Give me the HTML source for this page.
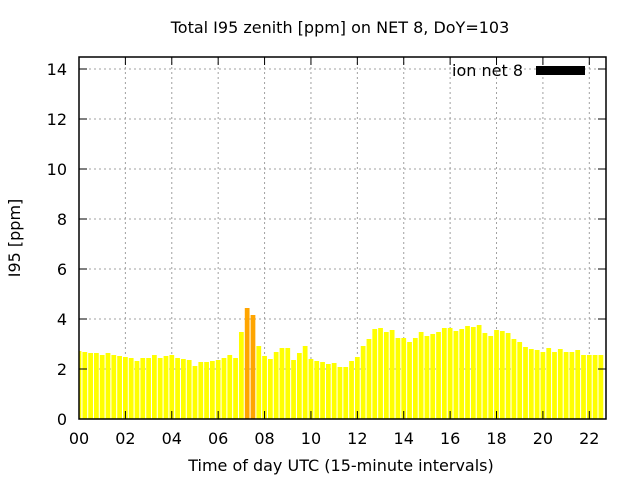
<!DOCTYPE html>
<html><head><meta charset="utf-8"><style>
body{margin:0;background:#fff;}
svg{display:block;font-family:"DejaVu Sans","Liberation Sans",sans-serif;}
</style></head><body>
<svg id="chart" width="640" height="480">
<text x="340" y="33" font-size="16" text-anchor="middle">Total I95 zenith [ppm] on NET 8, DoY=103</text>
<g id="grid"></g>
<g id="bars"></g>
<g id="axes"></g>
<text x="341" y="471" font-size="16" text-anchor="middle">Time of day UTC (15-minute intervals)</text>
<text transform="translate(20,238) rotate(-90)" font-size="16" text-anchor="middle">I95 [ppm]</text>
<text x="523" y="76" font-size="16" text-anchor="end">ion net 8</text>
<rect x="536" y="66" width="49" height="9" fill="#000"/>
</svg>
<script>
const values=[2.72,2.68,2.64,2.64,2.56,2.64,2.56,2.52,2.48,2.44,2.32,2.44,2.44,2.56,2.44,2.52,2.56,2.44,2.40,2.36,2.12,2.28,2.28,2.32,2.36,2.44,2.56,2.44,3.48,4.44,4.16,2.92,2.52,2.40,2.68,2.84,2.84,2.36,2.64,2.92,2.40,2.32,2.28,2.20,2.24,2.08,2.08,2.32,2.48,2.92,3.2,3.6,3.64,3.48,3.56,3.24,3.24,3.08,3.24,3.48,3.32,3.40,3.48,3.64,3.64,3.52,3.60,3.72,3.68,3.76,3.44,3.32,3.56,3.52,3.44,3.20,3.08,2.88,2.80,2.76,2.68,2.84,2.68,2.80,2.68,2.68,2.76,2.56,2.56,2.56,2.56];
const xTicks=["00","02","04","06","08","10","12","14","16","18","20","22"];
const yTicks=[0,2,4,6,8,10,12,14];
const X0=79,X1=606,Y0=419,Y1=57,xmax=22.72,ymax=14.48;
const sx=h=>X0+h*(X1-X0)/xmax, sy=v=>Y0-v*(Y0-Y1)/ymax;
const NS="http://www.w3.org/2000/svg";
function mk(t,a,p){const e=document.createElementNS(NS,t);for(const k in a)e.setAttribute(k,a[k]);p.appendChild(e);return e;}
const grid=document.getElementById('grid'),bars=document.getElementById('bars'),axes=document.getElementById('axes');
yTicks.forEach(v=>{
 const y=sy(v);
 if(v>0){const g=mk('line',{x1:X0,x2:X1,y1:y,y2:y,stroke:'#a0a0a0','stroke-dasharray':'2,3'},grid);
 
 }
 mk('line',{x1:X0,x2:X0+8,y1:y,y2:y,stroke:'#000'},axes);
 mk('line',{x1:X1,x2:X1-8,y1:y,y2:y,stroke:'#000'},axes);
 const t=mk('text',{x:X0-12,y:y+6,'font-size':16,'text-anchor':'end'},axes);t.textContent=v;
 
 
});
xTicks.forEach((l,i)=>{
 const x=sx(i*2);
 if(i>0){const g=mk('line',{x1:x,x2:x,y1:Y1,y2:Y0,stroke:'#a0a0a0','stroke-dasharray':'2,3'},grid);
 
 }
 mk('line',{x1:x,x2:x,y1:Y0,y2:Y0-8,stroke:'#000'},axes);
 mk('line',{x1:x,x2:x,y1:Y1,y2:Y1+8,stroke:'#000'},axes);
 const t=mk('text',{x:x,y:Y0+25,'font-size':16,'text-anchor':'middle'},axes);t.textContent=l;
 
 
});
const bw=(X1-X0)/xmax*0.25*0.82;
values.forEach((v,i)=>{
 const cx=sx(i*0.25);let x=cx-bw/2,w=bw;
 if(x<X0){w-=X0-x;x=X0;}
 const r=mk('rect',{x:x,y:sy(v),width:w,height:Y0-sy(v),fill:v>4?'#ffa500':'#ffff00'},bars);
 
 
});
const f=mk('rect',{x:X0,y:Y1,width:X1-X0,height:Y0-Y1,fill:'none',stroke:'#000','stroke-width':1.5},axes);


</script>
</body></html>
